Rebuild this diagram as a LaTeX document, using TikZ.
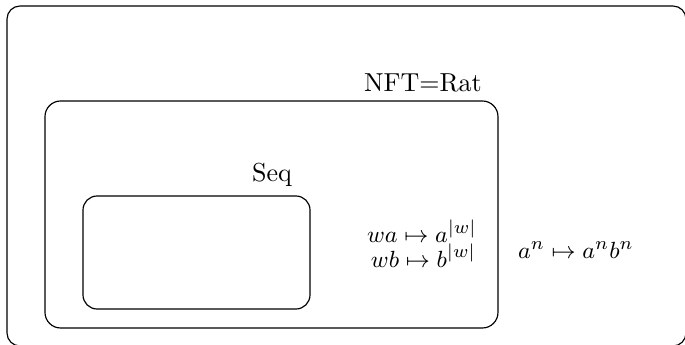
\documentclass[tikz,border=0pt]{standalone}
\usepackage{amsmath}
\begin{document}
\begin{tikzpicture}[x=0.3846pt,y=-0.3846pt,
  region/.style={draw=black,line width=0.45pt},
  setname/.style={anchor=base,inner sep=0pt,font=\fontsize{10}{12}\selectfont},
  mapex/.style={anchor=base,inner sep=0pt,font=\fontsize{9.5}{11}\selectfont}]
\useasboundingbox (0,0) rectangle (685,345);
% language classes, outermost first
\draw[region,rounded corners=5pt] (7,6) rectangle (686,346);
\draw[region,rounded corners=6pt] (45,101) rectangle (498,328);
\draw[region,rounded corners=5.4pt] (83,196) rectangle (310,309);
% class names
\node[setname] (ratname) at (423,92) {NFT$=$Rat};
\node[setname] (seqname) at (272,182) {Seq};
% example transductions
\node[mapex] (exa) at (422,243) {$wa\mapsto a^{|w|}$};
\node[mapex] (exb) at (423.5,267.5) {$wb\mapsto b^{|w|}$};
\node[mapex] (exc) at (576,259) {$a^n\mapsto a^nb^n$};
\end{tikzpicture}
\end{document}
